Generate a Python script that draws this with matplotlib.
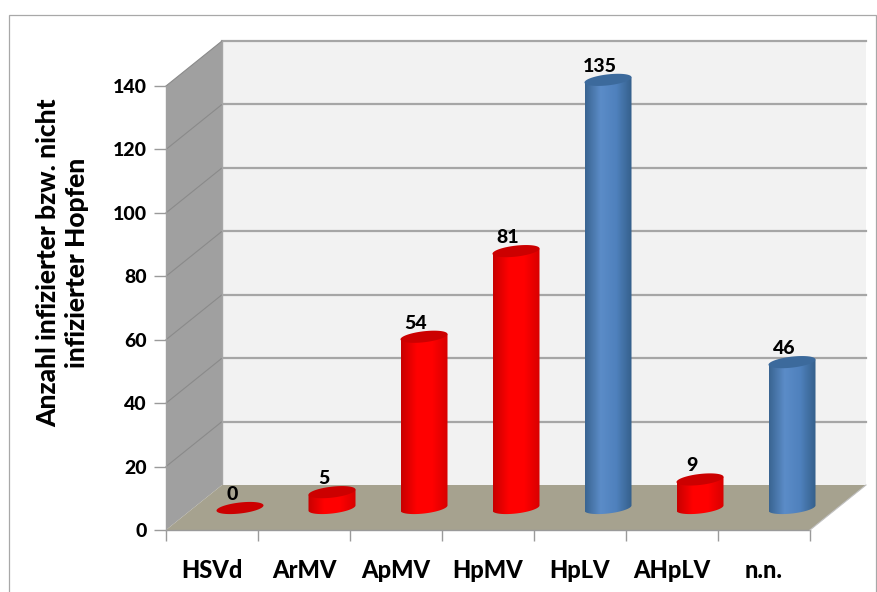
import numpy as np
import matplotlib
matplotlib.use('Agg')
import matplotlib.pyplot as plt
from matplotlib.colors import LinearSegmentedColormap
from matplotlib.patches import Polygon, Rectangle

plt.rcParams['font.family'] = ['Lato', 'DejaVu Sans']
plt.rcParams['font.weight'] = 900

categories = ['HSVd', 'ArMV', 'ApMV', 'HpMV', 'HpLV', 'AHpLV', 'n.n.']
values = [0, 5, 54, 81, 135, 9, 46]
bar_kinds = ['red', 'red', 'red', 'red', 'blue', 'red', 'blue']
y_ticks = [0, 20, 40, 60, 80, 100, 120, 140]

W, H = 878, 592
# front plane of the fake 3d box, in pixels
left, right, bottom, top = 166, 810, 530, 86
y_max = 140
px_x = (right - left) / len(categories)
px_y = (bottom - top) / y_max

# depth of the box in data units
depth_x = 56 / px_x
depth_y = 45 / px_y

shades = {
    'red': ['#c80000', '#ff0000', '#ff0000', '#d80000'],
    'blue': ['#3a6592', '#5b8cc8', '#4f81bd', '#35608c'],
}
top_colors = {'red': '#cc0000', 'blue': '#3c6a9c'}

fig = plt.figure(figsize=(W / 100, H / 100), dpi=100)
fig.patches.append(Rectangle((9.5 / W, -0.1), (W - 11) / W, 1.1 - 14.5 / H, transform=fig.transFigure,
                             fc='none', ec='#a8a8a8', lw=0.9))

ax = fig.add_axes([left / W, 1 - bottom / H, (right - left) / W, (bottom - top) / H])
ax.set_xlim(-0.5, len(categories) - 0.5)
ax.set_ylim(0, y_max)
ax.patch.set_alpha(0)
for s in ax.spines.values():
    s.set_visible(False)

x0, x1 = ax.get_xlim()

# walls and floor
ax.add_patch(Polygon([(x0 + depth_x, depth_y), (x1 + depth_x, depth_y),
                      (x1 + depth_x, y_max + depth_y), (x0 + depth_x, y_max + depth_y)],
                     fc='#f2f2f2', ec='none', clip_on=False, zorder=1))
ax.add_patch(Polygon([(x0, 0), (x0 + depth_x, depth_y), (x0 + depth_x, y_max + depth_y), (x0, y_max)],
                     fc='#a0a0a0', ec='none', clip_on=False, zorder=1))
ax.add_patch(Polygon([(x0, 0), (x1, 0), (x1 + depth_x, depth_y), (x0 + depth_x, depth_y)],
                     fc='#a6a28f', ec='none', clip_on=False, zorder=2))

# gridlines
for t in y_ticks[1:]:
    ax.plot([x0 + depth_x, x1 + depth_x], [t + depth_y, t + depth_y], color='#a6a6a6', lw=1.6,
            clip_on=False, zorder=1.5)
    ax.plot([x0, x0 + depth_x], [t, t + depth_y], color='#8a8a8a', lw=0.8, clip_on=False, zorder=1.5)
ax.plot([x0 + depth_x, x0 + depth_x], [depth_y, y_max + depth_y], color='#a6a6a6', lw=1, clip_on=False, zorder=1.5)
ax.plot([x0, x1], [0, 0], color='#9a9a9a', lw=1, clip_on=False, zorder=2.5)
ax.plot([x1, x1 + depth_x], [0, depth_y], color='#c0c0c0', lw=0.8, clip_on=False, zorder=2.5)
ax.plot([x0, x0], [0, y_max], color='#a0a0a0', lw=1, clip_on=False, zorder=2.5)

# ticks
ax.set_yticks(y_ticks)
ax.set_xticks(np.arange(len(categories) + 1) - 0.5)
ax.set_xticklabels([])
ax.tick_params(axis='y', length=9, width=1, color='#9a9a9a', labelsize=14, pad=5, labelcolor='black')
ax.tick_params(axis='x', length=8, width=1, color='#9a9a9a')

# cylinders
half_w = 23.5 / px_x
half_h = 5.5 / px_y
tilt = 2.6 / px_y
t_vals = np.linspace(0, 2 * np.pi, 120)
for i, (v, kind) in enumerate(zip(values, bar_kinds)):
    cx = i + depth_x / 2
    cy = 22 / px_y
    ex = half_w * np.cos(t_vals)
    ey = half_h * np.sin(t_vals) + tilt * np.cos(t_vals)
    if v > 0:
        lower = t_vals >= np.pi
        body = list(zip(cx + ex[lower], cy + ey[lower]))
        body += [(cx + half_w, cy + v + tilt), (cx - half_w, cy + v - tilt)]
        poly = Polygon(body, closed=True, fc='none', ec='none', clip_on=False)
        ax.add_patch(poly)
        cmap = LinearSegmentedColormap.from_list('c', shades[kind])
        im = ax.imshow(np.linspace(0, 1, 64).reshape(1, -1),
                       extent=(cx - half_w, cx + half_w, cy - half_h - tilt, cy + v + half_h + tilt),
                       aspect='auto', cmap=cmap, zorder=3)
        # image must be able to leave the front plane, the bars stand further back
        im.set_clip_box(fig.bbox)
        im.set_clip_path(poly)
    ax.fill(cx + ex, cy + v + ey, color=top_colors[kind], zorder=4, clip_on=False, lw=0)
    ax.annotate(str(v), (cx, cy + v), xytext=(-8, 5), textcoords='offset pixels', ha='center', va='bottom',
                fontsize=14, zorder=5, annotation_clip=False)

ax.set_xlim(x0, x1)
ax.set_ylim(0, y_max)

# category labels sit below the front edge
for i, c in enumerate(categories):
    ax.annotate(c, (i, 0), xytext=(0, -41), textcoords='offset pixels', ha='center', va='center', fontsize=17,
                annotation_clip=False)

fig.text(63 / W, 1 - 263 / H, 'Anzahl infizierter bzw. nicht\ninfizierter Hopfen', rotation=90, ha='center', va='center',
         fontsize=19, linespacing=1.25)

fig.savefig('out.png', dpi=100)
